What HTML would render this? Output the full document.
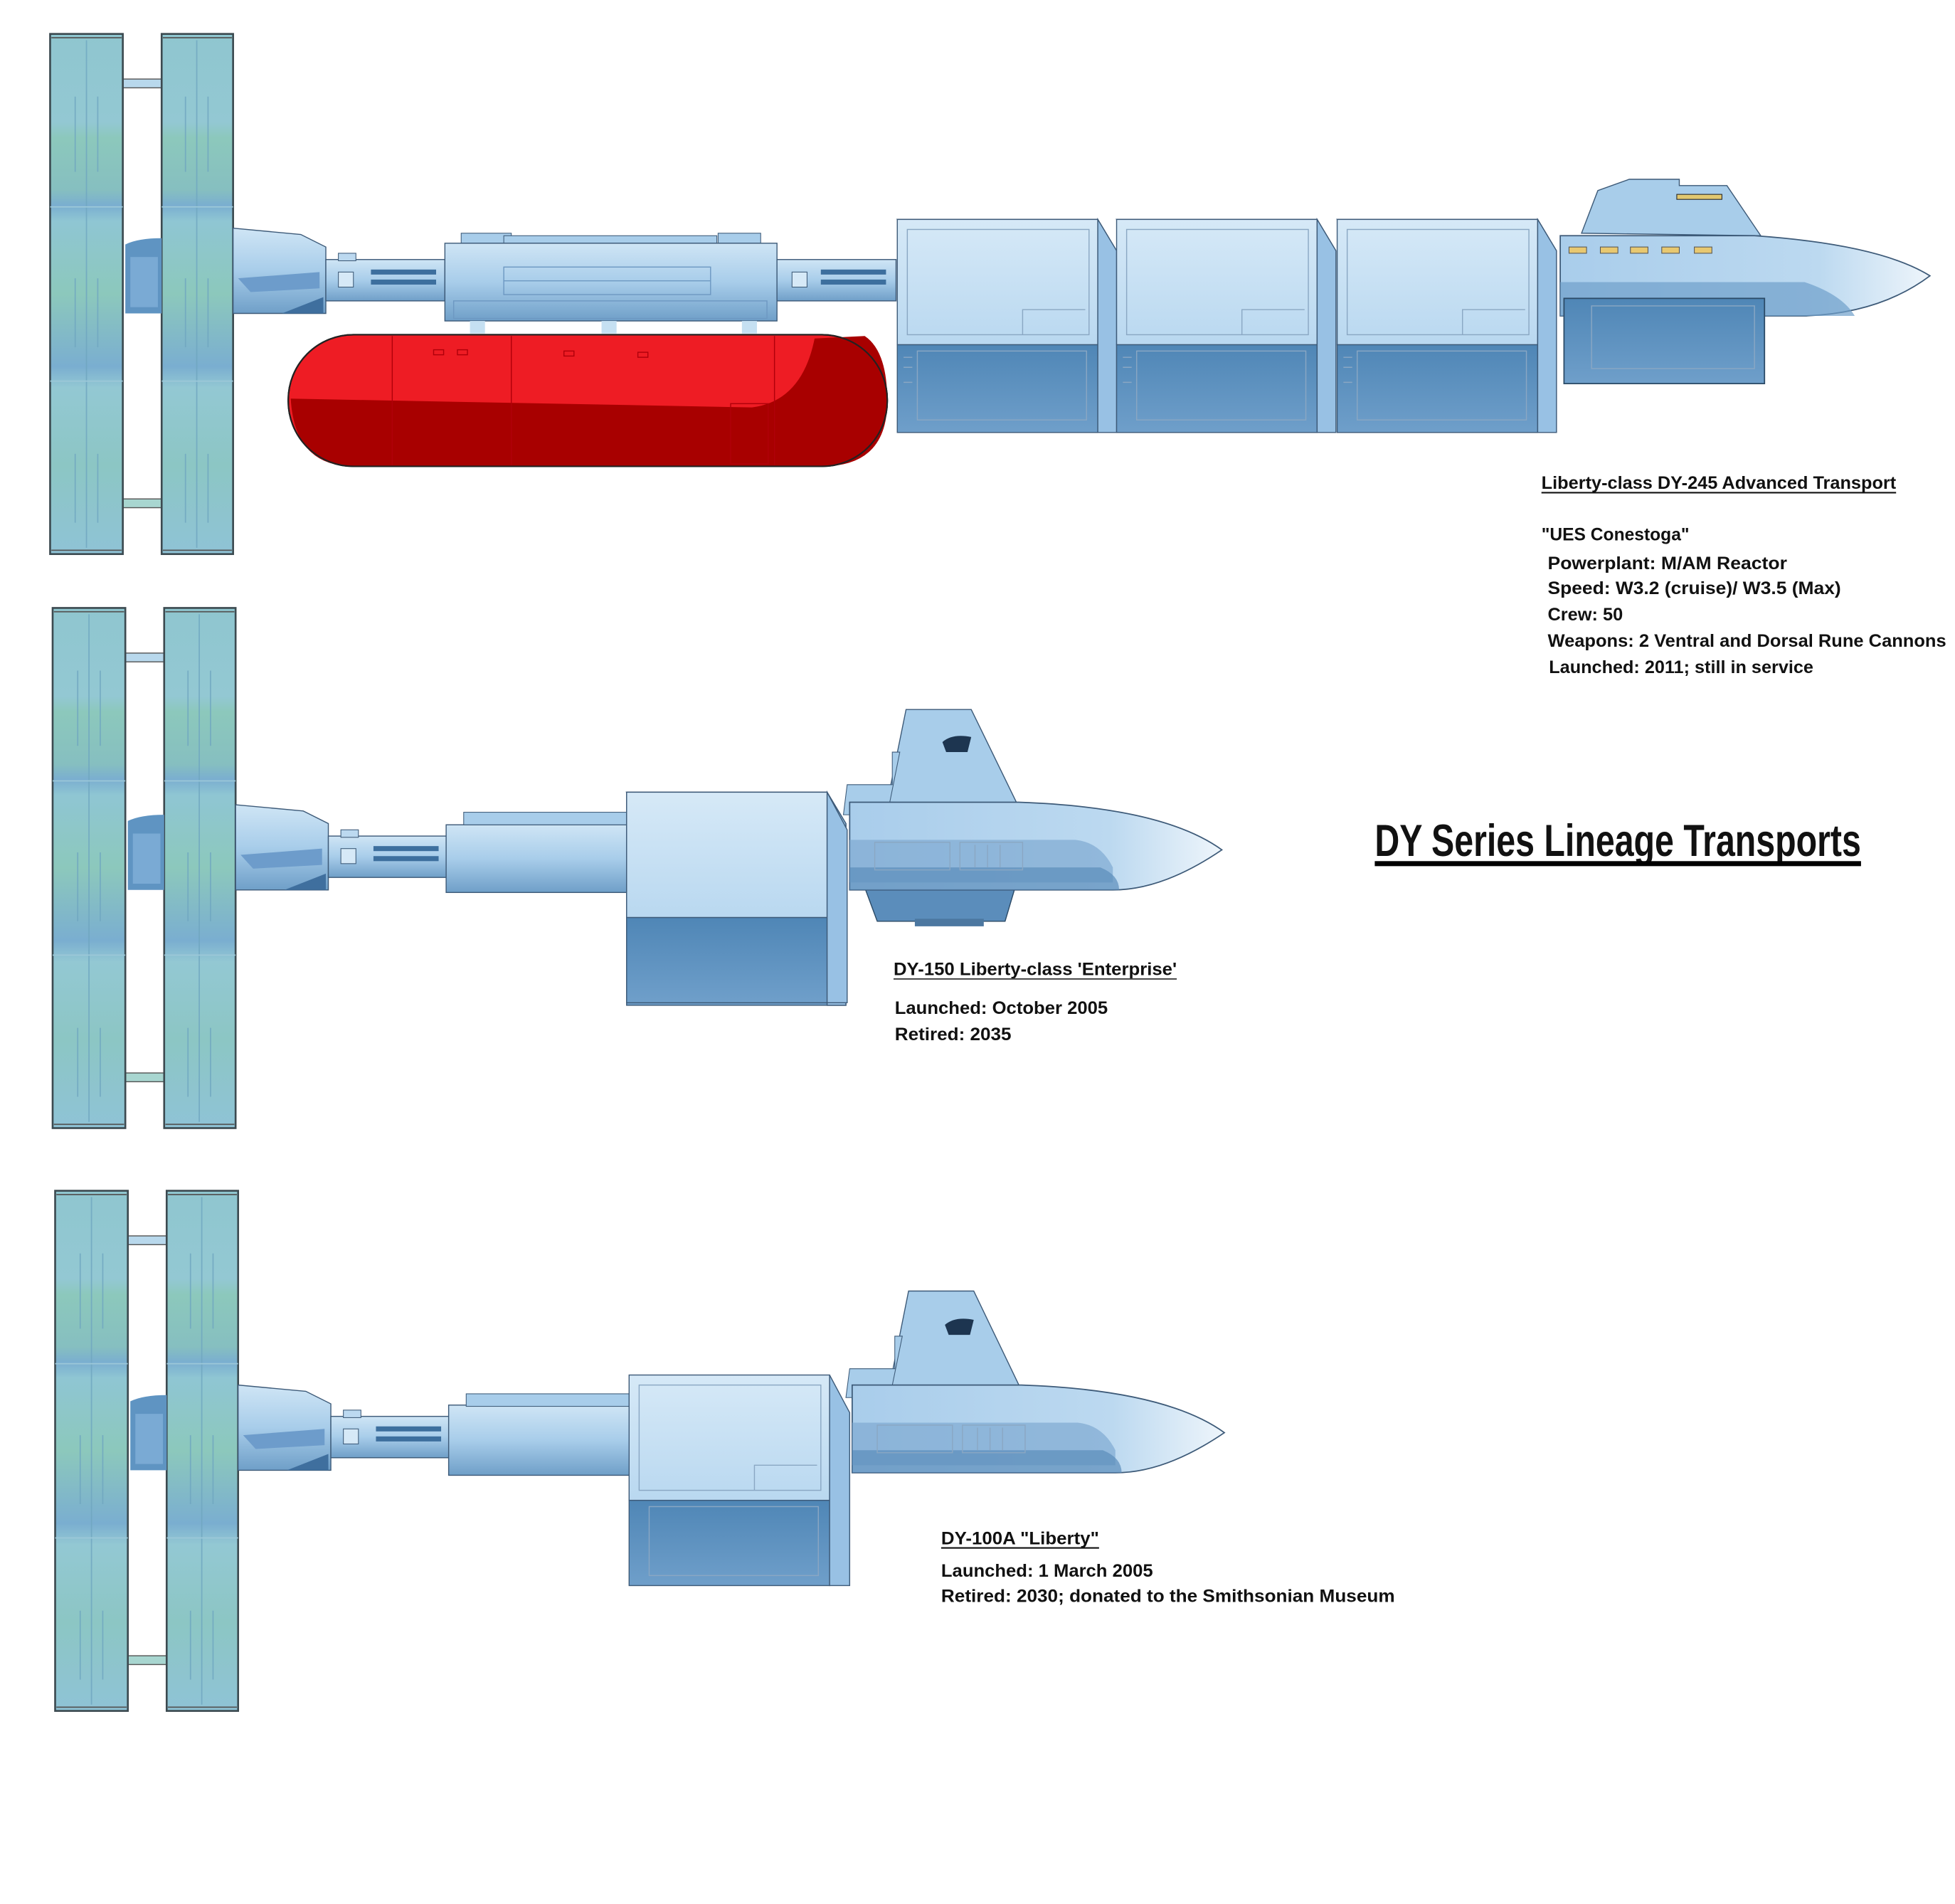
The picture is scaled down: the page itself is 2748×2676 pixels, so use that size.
<!DOCTYPE html>
<html><head><meta charset="utf-8"><style>
html,body{margin:0;padding:0;background:#fff;}
svg{display:block;}
text{font-family:"Liberation Sans",sans-serif;font-weight:bold;fill:#111;}
</style></head><body>
<svg width="2748" height="2676" viewBox="0 0 1560 1519" xmlns="http://www.w3.org/2000/svg">
<defs>
<linearGradient id="pan" x1="0" y1="0" x2="0" y2="1">
<stop offset="0" stop-color="#8fc6cf"/><stop offset="0.17" stop-color="#93c8d3"/><stop offset="0.2" stop-color="#8cc8bc"/><stop offset="0.3" stop-color="#86bfc0"/><stop offset="0.33" stop-color="#7aaed0"/>
<stop offset="0.36" stop-color="#8fc6d3"/><stop offset="0.5" stop-color="#8cc8bc"/><stop offset="0.64" stop-color="#7aaed0"/><stop offset="0.68" stop-color="#93c8d3"/><stop offset="0.83" stop-color="#8cc6c4"/><stop offset="1" stop-color="#8fc3d6"/>
</linearGradient>
<linearGradient id="hull" x1="0" y1="0" x2="0" y2="1">
<stop offset="0" stop-color="#cfe5f5"/><stop offset="0.5" stop-color="#a8cdea"/><stop offset="1" stop-color="#6f9fc8"/>
</linearGradient>
<linearGradient id="boxtop" x1="0" y1="0" x2="0" y2="1">
<stop offset="0" stop-color="#d6e9f7"/><stop offset="1" stop-color="#b9d8f0"/>
</linearGradient>
<linearGradient id="boxbot" x1="0" y1="0" x2="0" y2="1">
<stop offset="0" stop-color="#4f86b6"/><stop offset="1" stop-color="#6f9fca"/>
</linearGradient>
<linearGradient id="nose" x1="0" y1="0" x2="1" y2="0">
<stop offset="0" stop-color="#a9cdeb"/><stop offset="0.7" stop-color="#bcd9f0"/><stop offset="1" stop-color="#eef5fb"/>
</linearGradient>

<g id="panels">
<rect x="98" y="36" width="31" height="7" fill="#b8d8ec" stroke="#555" stroke-width="0.8"/>
<rect x="98" y="371" width="31" height="7" fill="#a8d6d0" stroke="#555" stroke-width="0.8"/>
<rect x="40" y="0" width="58" height="415" fill="url(#pan)" stroke="#3c4a50" stroke-width="1.5"/>
<rect x="129" y="0" width="57" height="415" fill="url(#pan)" stroke="#3c4a50" stroke-width="1.5"/>
<g stroke="#6fa6c0" stroke-width="1" fill="none" opacity="0.8">
<line x1="69" y1="5" x2="69" y2="410"/><line x1="157" y1="5" x2="157" y2="410"/>
<line x1="60" y1="50" x2="60" y2="110"/><line x1="78" y1="50" x2="78" y2="110"/>
<line x1="148" y1="50" x2="148" y2="110"/><line x1="166" y1="50" x2="166" y2="110"/>
<line x1="60" y1="195" x2="60" y2="250"/><line x1="78" y1="195" x2="78" y2="250"/>
<line x1="148" y1="195" x2="148" y2="250"/><line x1="166" y1="195" x2="166" y2="250"/>
<line x1="60" y1="335" x2="60" y2="390"/><line x1="78" y1="335" x2="78" y2="390"/>
<line x1="148" y1="335" x2="148" y2="390"/><line x1="166" y1="335" x2="166" y2="390"/>
</g>
<g stroke="#9cc8d8" stroke-width="1">
<line x1="40" y1="138" x2="98" y2="138"/><line x1="129" y1="138" x2="186" y2="138"/>
<line x1="40" y1="277" x2="98" y2="277"/><line x1="129" y1="277" x2="186" y2="277"/>
</g>
<line x1="41" y1="3" x2="97" y2="3" stroke="#555"/><line x1="130" y1="3" x2="185" y2="3" stroke="#555"/>
<line x1="41" y1="412" x2="97" y2="412" stroke="#555"/><line x1="130" y1="412" x2="185" y2="412" stroke="#555"/>
</g>

<g id="tail">
<path d="M100 172 L100 168 Q110 163 129 163 L129 223 L100 223 Z" fill="#5f94c2"/>
<rect x="104" y="178" width="22" height="40" fill="#7aaad4"/>
<path d="M186 155 L240 160 L260 170 L260 223 L186 223 Z" fill="url(#hull)" stroke="#3d5a78" stroke-width="0.8"/>
<path d="M190 195 L255 190 L255 203 L200 206 Z" fill="#6d9ccb"/>
<path d="M225 223 L258 210 L258 223 Z" fill="#3f6f9e"/>
<rect x="260" y="180" width="95" height="33" fill="url(#hull)" stroke="#3d5a78" stroke-width="0.8"/>
<rect x="270" y="175" width="14" height="6" fill="#bcd9f0" stroke="#3d5a78" stroke-width="0.6"/>
<rect x="270" y="190" width="12" height="12" fill="#d6e9f7" stroke="#3d5a78" stroke-width="0.6"/>
<rect x="296" y="188" width="52" height="4" fill="#3d6f9e"/>
<rect x="296" y="196" width="52" height="4" fill="#3d6f9e"/>
</g>

<g id="box">
<path d="M0 0 L160 0 L175 25 L175 170 L160 170 Z" fill="#8fb9df" stroke="#3d5a78" stroke-width="0.8"/>
<rect x="0" y="0" width="160" height="100" fill="url(#boxtop)" stroke="#3d5a78" stroke-width="0.8"/>
<rect x="0" y="100" width="160" height="70" fill="url(#boxbot)" stroke="#3d5a78" stroke-width="0.8"/>
<path d="M160 0 L175 25 L175 170 L160 170 Z" fill="#98c1e4" stroke="#3d5a78" stroke-width="0.8"/>
<g fill="none" stroke="#8aa7c3" stroke-width="0.8">
<rect x="8" y="8" width="145" height="84"/><path d="M100 92 L100 72 L150 72"/>
<rect x="16" y="105" width="135" height="55"/><path d="M5 110 L12 110 M5 118 L12 118 M5 130 L12 130"/>
</g>
</g>

<g id="cmd">
<path d="M0 8 L135 8 Q250 12 297 46 Q250 78 210 78 L0 78 Z" fill="url(#nose)" stroke="#3d5a78" stroke-width="1"/>
<path d="M0 38 L180 38 Q200 40 210 60 L210 72 L0 72 Z" fill="#7fa9d2" opacity="0.7"/>
<path d="M0 60 L200 60 Q215 66 215 78 L0 78 Z" fill="#5b8dbb" opacity="0.7"/>
<g fill="none" stroke="#8aa7c3" stroke-width="0.8"><rect x="20" y="40" width="60" height="22"/><rect x="88" y="40" width="50" height="22"/><path d="M100 42 L100 60 M110 42 L110 60 M120 42 L120 60"/></g>
</g>
</defs>

<!-- ===== TOP SHIP ===== -->
<use href="#panels" y="27"/>
<use href="#tail" y="27"/>
<!-- module -->
<rect x="368" y="186" width="40" height="8" fill="#a8cdea" stroke="#3d5a78" stroke-width="0.6"/>
<rect x="402" y="188" width="170" height="6" fill="#a8cdea" stroke="#3d5a78" stroke-width="0.6"/>
<rect x="573" y="186" width="34" height="8" fill="#a8cdea" stroke="#3d5a78" stroke-width="0.6"/>
<rect x="355" y="194" width="265" height="62" fill="url(#hull)" stroke="#3d5a78" stroke-width="0.8"/>
<g fill="none" stroke="#6d98c2" stroke-width="0.8"><rect x="402" y="213" width="165" height="22"/><line x1="402" y1="224" x2="567" y2="224"/><rect x="362" y="240" width="250" height="14"/></g>
<rect x="375" y="256" width="12" height="10" fill="#c5e0f2"/><rect x="480" y="256" width="12" height="10" fill="#c5e0f2"/><rect x="592" y="256" width="12" height="10" fill="#c5e0f2"/>
<!-- pipe 2 -->
<rect x="620" y="207" width="95" height="33" fill="url(#hull)" stroke="#3d5a78" stroke-width="0.8"/>
<rect x="632" y="217" width="12" height="12" fill="#d6e9f7" stroke="#3d5a78" stroke-width="0.6"/>
<rect x="655" y="215" width="52" height="4" fill="#3d6f9e"/><rect x="655" y="223" width="52" height="4" fill="#3d6f9e"/>
<!-- red tank -->
<rect x="230" y="267" width="478" height="105" rx="52" ry="52" fill="#ee1c24" stroke="#222" stroke-width="1.2"/>
<path d="M232 318 L600 325 Q640 320 650 270 L690 268 Q708 280 708 320 Q708 372 656 372 L282 372 Q235 372 232 318 Z" fill="#a80000"/>
<rect x="230" y="267" width="478" height="105" rx="52" ry="52" fill="none" stroke="#222" stroke-width="1.2"/>
<g fill="none" stroke="#b0000a" stroke-width="0.8"><line x1="313" y1="268" x2="313" y2="371"/><line x1="408" y1="268" x2="408" y2="371"/><line x1="618" y1="268" x2="618" y2="371"/><rect x="583" y="322" width="30" height="48"/><rect x="346" y="279" width="8" height="4"/><rect x="365" y="279" width="8" height="4"/><rect x="450" y="280" width="8" height="4"/><rect x="509" y="281" width="8" height="4"/></g>
<!-- boxes -->
<use href="#box" x="716" y="175"/>
<use href="#box" x="891" y="175"/>
<use href="#box" x="1067" y="175"/>
<!-- command top -->
<path d="M1262 186 L1275 152 L1300 143 L1340 143 L1340 148 L1378 148 L1405 188 Z" fill="#a8cdea" stroke="#3d5a78" stroke-width="0.8"/>
<rect x="1338" y="155" width="36" height="4" fill="#e2c870" stroke="#222" stroke-width="0.6"/>
<path d="M1245 188 L1400 188 Q1500 195 1540 220 Q1500 250 1440 252 L1245 252 Z" fill="url(#nose)" stroke="#3d5a78" stroke-width="1"/>
<path d="M1245 225 L1440 225 Q1470 235 1480 252 L1245 252 Z" fill="#6f9fca" opacity="0.7"/>
<rect x="1248" y="238" width="160" height="68" fill="url(#boxbot)" stroke="#2b4a66" stroke-width="1"/>
<g fill="none" stroke="#8aa7c3" stroke-width="0.8"><rect x="1270" y="244" width="130" height="50"/></g>
<g fill="#e8c870" stroke="#555" stroke-width="0.6"><rect x="1252" y="197" width="14" height="5"/><rect x="1277" y="197" width="14" height="5"/><rect x="1301" y="197" width="14" height="5"/><rect x="1326" y="197" width="14" height="5"/><rect x="1352" y="197" width="14" height="5"/></g>

<!-- ===== MIDDLE SHIP ===== -->
<g transform="translate(2,458)"><use href="#panels" y="27"/><use href="#tail" y="27" transform="translate(0,2)"/></g>
<rect x="356" y="658" width="145" height="54" fill="url(#hull)" stroke="#3d5a78" stroke-width="0.8"/>
<rect x="370" y="648" width="130" height="10" fill="#a8cdea" stroke="#3d5a78" stroke-width="0.6"/>
<use href="#box" x="500" y="632" transform="translate(0,0)"/>
<g transform="translate(500,632)"><rect x="0" y="0" width="160" height="100" fill="url(#boxtop)" stroke="#3d5a78" stroke-width="0.8"/><rect x="0" y="100" width="160" height="68" fill="url(#boxbot)" stroke="#3d5a78" stroke-width="0.8"/><path d="M160 0 L176 30 L176 168 L160 168 Z" fill="#98c1e4" stroke="#3d5a78" stroke-width="0.8"/></g>
<path d="M708 640 L723 566 L775 566 L812 642 Z" fill="#a8cdea" stroke="#3d5a78" stroke-width="0.8"/>
<path d="M673 650 L676 626 L712 626 L712 600 L718 600 L708 650 Z" fill="#a8cdea" stroke="#3d5a78" stroke-width="0.6"/>
<path d="M752 592 Q760 585 775 588 L772 600 L755 600 Z" fill="#1d3550"/>
<path d="M690 708 L810 708 L802 735 L700 735 Z" fill="#5b8dbb" stroke="#2b4a66" stroke-width="0.8"/>
<rect x="730" y="733" width="55" height="6" fill="#4c77a0"/>
<use href="#cmd" x="678" y="632"/>

<!-- ===== BOTTOM SHIP ===== -->
<g transform="translate(4,923)"><use href="#panels" y="27"/><use href="#tail" y="27"/></g>
<rect x="358" y="1121" width="145" height="56" fill="url(#hull)" stroke="#3d5a78" stroke-width="0.8"/>
<rect x="372" y="1112" width="130" height="10" fill="#a8cdea" stroke="#3d5a78" stroke-width="0.6"/>
<g transform="translate(502,1097)"><rect x="0" y="0" width="160" height="100" fill="url(#boxtop)" stroke="#3d5a78" stroke-width="0.8"/><rect x="0" y="100" width="160" height="68" fill="url(#boxbot)" stroke="#3d5a78" stroke-width="0.8"/><path d="M160 0 L176 30 L176 168 L160 168 Z" fill="#98c1e4" stroke="#3d5a78" stroke-width="0.8"/><g fill="none" stroke="#8aa7c3" stroke-width="0.8"><rect x="8" y="8" width="145" height="84"/><path d="M100 92 L100 72 L150 72"/><rect x="16" y="105" width="135" height="55"/></g></g>
<path d="M710 1105 L725 1030 L777 1030 L814 1107 Z" fill="#a8cdea" stroke="#3d5a78" stroke-width="0.8"/>
<path d="M675 1115 L678 1092 L714 1092 L714 1066 L720 1066 L710 1115 Z" fill="#a8cdea" stroke="#3d5a78" stroke-width="0.6"/>
<path d="M754 1057 Q762 1050 777 1053 L774 1065 L757 1065 Z" fill="#1d3550"/>
<use href="#cmd" x="680" y="1097"/>

<!-- ===== TEXT ===== -->
<text x="1230" y="390" font-size="14" textLength="283" lengthAdjust="spacingAndGlyphs">Liberty-class DY-245 Advanced Transport</text>
<line x1="1230" y1="393" x2="1513" y2="393" stroke="#111" stroke-width="1.2"/>
<text x="1230" y="431" font-size="14" textLength="118" lengthAdjust="spacingAndGlyphs">"UES Conestoga"</text>
<text x="1235" y="454" font-size="14" textLength="191" lengthAdjust="spacingAndGlyphs">Powerplant: M/AM Reactor</text>
<text x="1235" y="474" font-size="14" textLength="234" lengthAdjust="spacingAndGlyphs">Speed: W3.2 (cruise)/ W3.5 (Max)</text>
<text x="1235" y="495" font-size="14" textLength="60" lengthAdjust="spacingAndGlyphs">Crew: 50</text>
<text x="1235" y="516" font-size="14" textLength="318" lengthAdjust="spacingAndGlyphs">Weapons: 2 Ventral and Dorsal Rune Cannons</text>
<text x="1236" y="537" font-size="14" textLength="211" lengthAdjust="spacingAndGlyphs">Launched: 2011; still in service</text>

<text x="1097" y="683" font-size="36" textLength="388" lengthAdjust="spacingAndGlyphs">DY Series Lineage Transports</text>
<rect x="1097" y="687" width="388" height="4" fill="#000"/>

<text x="713" y="778" font-size="14" textLength="226" lengthAdjust="spacingAndGlyphs">DY-150 Liberty-class 'Enterprise'</text>
<line x1="713" y1="781" x2="939" y2="781" stroke="#444" stroke-width="1.2"/>
<text x="714" y="809" font-size="14" textLength="170" lengthAdjust="spacingAndGlyphs">Launched: October 2005</text>
<text x="714" y="830" font-size="14" textLength="93" lengthAdjust="spacingAndGlyphs">Retired: 2035</text>

<text x="751" y="1232" font-size="14" textLength="126" lengthAdjust="spacingAndGlyphs">DY-100A "Liberty"</text>
<line x1="751" y1="1235" x2="877" y2="1235" stroke="#111" stroke-width="1.2"/>
<text x="751" y="1258" font-size="14" textLength="169" lengthAdjust="spacingAndGlyphs">Launched: 1 March 2005</text>
<text x="751" y="1278" font-size="14" textLength="362" lengthAdjust="spacingAndGlyphs">Retired: 2030; donated to the Smithsonian Museum</text>
</svg>
</body></html>
